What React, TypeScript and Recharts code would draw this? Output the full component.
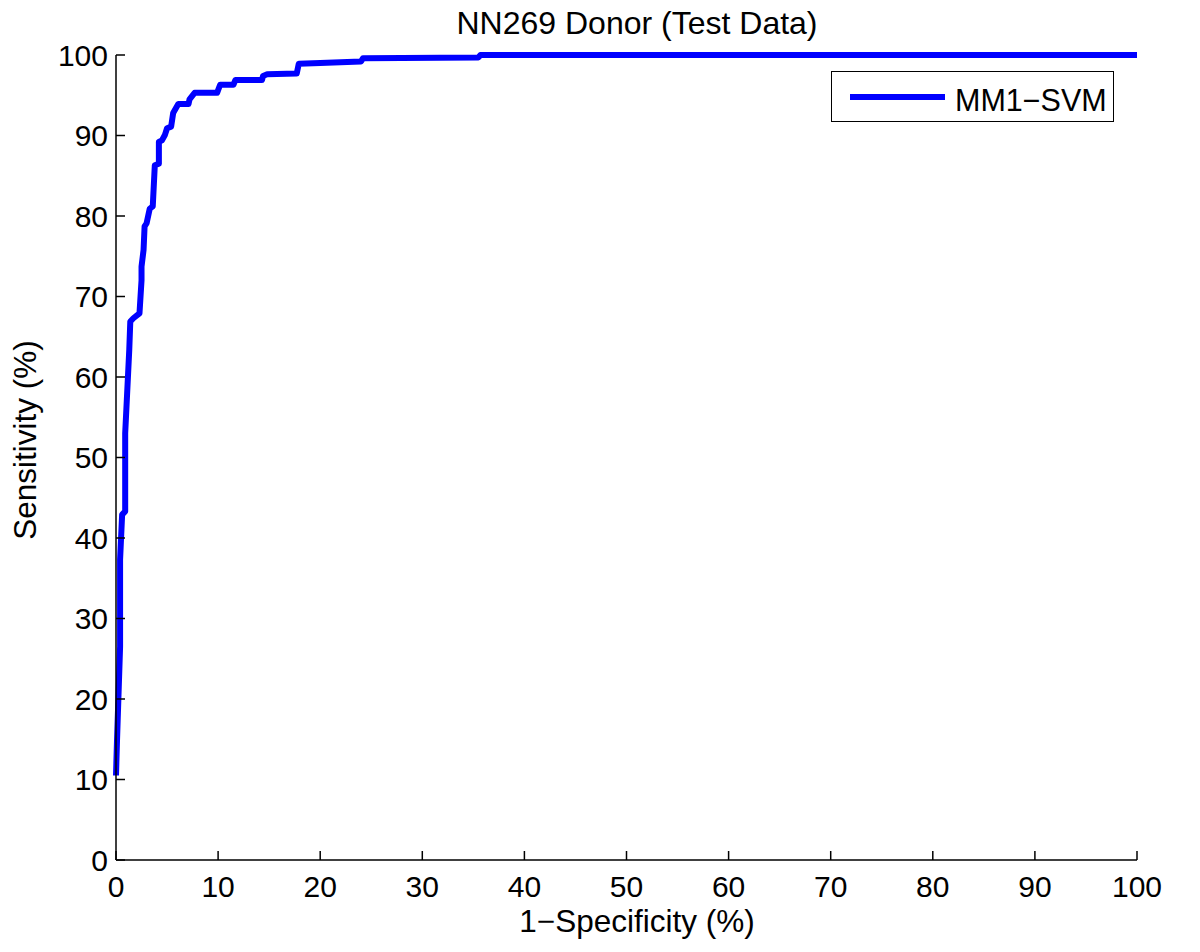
import React from "react";
import { LineChart, Line, XAxis, YAxis } from "recharts";

// ROC curve points (percent)
const fpr = [
  0, 0.1, 0.4, 0.4, 0.6, 0.9, 0.9, 1.3, 1.4, 1.7, 2.3, 2.5, 2.5, 2.7, 2.8, 3.0,
  3.3, 3.6, 3.8, 4.2, 4.2, 4.5, 4.8, 5.0, 5.4, 5.6, 6.1, 7.1, 7.2, 7.7, 9.9,
  10.2, 11.5, 11.7, 14.3, 14.4, 14.8, 17.7, 17.9, 20.0, 24.0, 24.2, 35.5, 35.7,
  100,
];
const tpr = [
  10.5, 14.9, 26.5, 37.3, 42.9, 43.3, 53.0, 63.4, 66.9, 67.3, 67.9, 72.0, 73.7,
  75.8, 78.7, 79.1, 80.9, 81.2, 86.3, 86.5, 89.2, 89.4, 90.1, 90.9, 91.1, 92.8,
  93.9, 93.9, 94.5, 95.3, 95.3, 96.3, 96.3, 96.9, 96.9, 97.4, 97.6, 97.7, 98.9,
  99.0, 99.2, 99.6, 99.7, 100, 100,
];
const xTicks = [0, 10, 20, 30, 40, 50, 60, 70, 80, 90, 100];
const yTicks = [0, 10, 20, 30, 40, 50, 60, 70, 80, 90, 100];
const seriesName = "MM1\u2212SVM";
const titleText = "NN269 Donor (Test Data)";
const xLabel = "1\u2212Specificity (%)";
const yLabel = "Sensitivity (%)";

const data = fpr.map((x, i) => ({ fpr: x, tpr: tpr[i] }));

const FONT = "'Liberation Sans', Arial, Helvetica, sans-serif";
const tickStyle = { fontSize: 30, fill: "#000", fontFamily: FONT };
const axisLine = { stroke: "#000", strokeWidth: 1.5 };
const tickLine = { stroke: "#000", strokeWidth: 1.5 };
const blank = () => "";

export default function App() {
  return (
    <div
      style={{
        position: "relative",
        width: 1184,
        height: 936,
        fontFamily: FONT,
        color: "#000",
        background: "#fff",
      }}
    >
      <LineChart
        width={1184}
        height={936}
        data={data}
        margin={{ top: 47, right: 55, bottom: 0, left: 0 }}
      >
        <XAxis
          dataKey="fpr"
          type="number"
          domain={[0, 100]}
          ticks={xTicks}
          height={84}
          tickSize={-9}
          tickMargin={25}
          axisLine={axisLine}
          tickLine={tickLine}
          tick={tickStyle}
          interval={0}
        />
        <XAxis
          xAxisId="top"
          orientation="top"
          dataKey="fpr"
          type="number"
          domain={[0, 100]}
          ticks={xTicks}
          height={0}
          tickSize={-9}
          axisLine={axisLine}
          tickLine={tickLine}
          tickFormatter={blank}
          interval={0}
        />
        <YAxis
          type="number"
          domain={[0, 100]}
          ticks={yTicks}
          width={108}
          tickSize={-9}
          tickMargin={17}
          axisLine={axisLine}
          tickLine={tickLine}
          tick={tickStyle}
          interval={0}
        />
        <YAxis
          yAxisId="right"
          orientation="right"
          type="number"
          domain={[0, 100]}
          ticks={yTicks}
          width={0}
          tickSize={-9}
          axisLine={axisLine}
          tickLine={tickLine}
          tickFormatter={blank}
          interval={0}
        />
        <Line
          type="linear"
          dataKey="tpr"
          name={seriesName}
          stroke="#0000ff"
          strokeWidth={6}
          strokeLinejoin="round"
          dot={false}
          isAnimationActive={false}
        />
      </LineChart>

      {/* Title */}
      <div
        style={{
          position: "absolute",
          left: 429,
          top: -1,
          width: 400,
          textAlign: "center",
          fontSize: 32,
          lineHeight: "32px",
          whiteSpace: "nowrap",
        }}
      >
        {titleText}
      </div>

      {/* X label */}
      <div
        style={{
          position: "absolute",
          left: 429,
          top: 897,
          width: 400,
          textAlign: "center",
          fontSize: 31.5,
          lineHeight: "32px",
          whiteSpace: "nowrap",
        }}
      >
        {xLabel}
      </div>

      {/* Y label */}
      <div
        style={{
          position: "absolute",
          left: -183,
          top: 416,
          width: 400,
          height: 32,
          textAlign: "center",
          fontSize: 31.5,
          lineHeight: "32px",
          whiteSpace: "nowrap",
          transform: "rotate(-90deg)",
        }}
      >
        {yLabel}
      </div>

      {/* Legend */}
      <div
        style={{
          position: "absolute",
          left: 823,
          top: 63,
          width: 281,
          height: 49,
          border: "1.5px solid #000",
          background: "#fff",
        }}
      >
        <div
          style={{
            position: "absolute",
            left: 18,
            top: 22,
            width: 95,
            height: 6,
            background: "#0000ff",
          }}
        />
        <div
          style={{
            position: "absolute",
            left: 123,
            top: 13,
            fontSize: 30.5,
            lineHeight: "30px",
            whiteSpace: "nowrap",
          }}
        >
          {seriesName}
        </div>
      </div>
    </div>
  );
}
